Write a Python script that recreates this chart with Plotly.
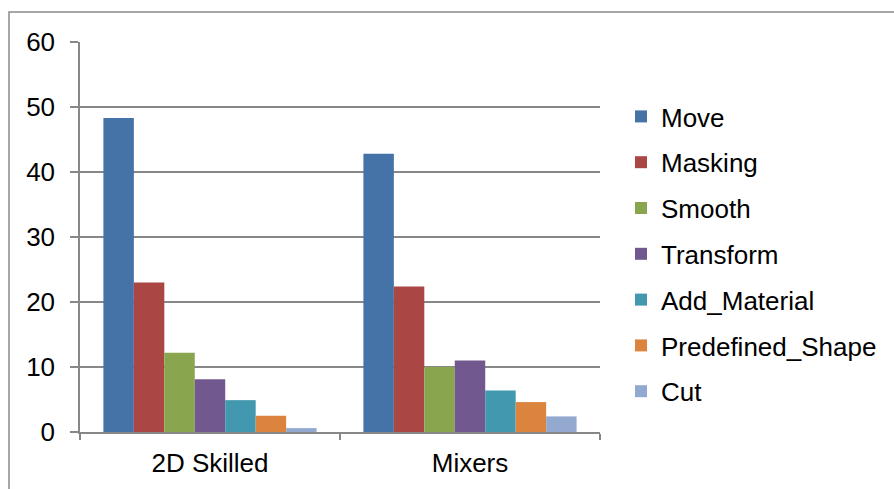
import plotly.graph_objects as go

groups = ["2D Skilled", "Mixers"]
series = ["Move", "Masking", "Smooth", "Transform", "Add_Material", "Predefined_Shape", "Cut"]
values = {
    "Move": [48.3, 42.8],
    "Masking": [23.0, 22.4],
    "Smooth": [12.2, 10.0],
    "Transform": [8.1, 11.0],
    "Add_Material": [4.9, 6.4],
    "Predefined_Shape": [2.5, 4.6],
    "Cut": [0.6, 2.4],
}
colors = ["#4572A7", "#AA4643", "#89A54E", "#71588F", "#4198AF", "#DB843D", "#93A9CF"]
y_ticks = [0, 10, 20, 30, 40, 50, 60]

fig = go.Figure()
for name, color in zip(series, colors):
    fig.add_trace(go.Bar(
        x=groups, y=values[name], name=name, legendgroup=name,
        marker=dict(color=color, line=dict(width=0)),
    ))

grid = "#878787"
fig.update_layout(
    width=894, height=489,
    margin=dict(l=80, r=294, t=42, b=57, autoexpand=False),
    paper_bgcolor="white", plot_bgcolor="white",
    barmode="group", bargap=0.18, bargroupgap=0,
    font=dict(family="Liberation Sans, Arial, sans-serif", size=26, color="black"),
    legend=dict(
        x=(621 - 80) / 520, xanchor="left", y=(432 - 93) / 390, yanchor="top",
        tracegroupgap=9, font=dict(size=26), itemwidth=30,
    ),
    xaxis=dict(
        showline=True, linecolor=grid, linewidth=2,
        ticks="outside", tickson="boundaries", ticklen=6, tickcolor=grid, tickwidth=1.5,
        showgrid=False, tickfont=dict(size=26), ticklabelstandoff=7,
    ),
    yaxis=dict(
        range=[0, 60], tickvals=y_ticks, showline=True, linecolor=grid, linewidth=1.5,
        ticks="outside", ticklen=8, tickcolor=grid, tickwidth=1.5,
        showgrid=True, gridcolor=grid, gridwidth=1.5, zeroline=False,
        tickfont=dict(size=26), ticklabelstandoff=10,
    ),
    shapes=[dict(
        type="rect", xref="paper", yref="paper",
        x0=(9 - 80) / 520, x1=(900 - 80) / 520,
        y0=(432 - 500) / 390, y1=(432 - 12) / 390,
        line=dict(color="#8a8a8a", width=1.5), fillcolor="rgba(0,0,0,0)", layer="below",
    )],
)

fig.write_html("out.html")
